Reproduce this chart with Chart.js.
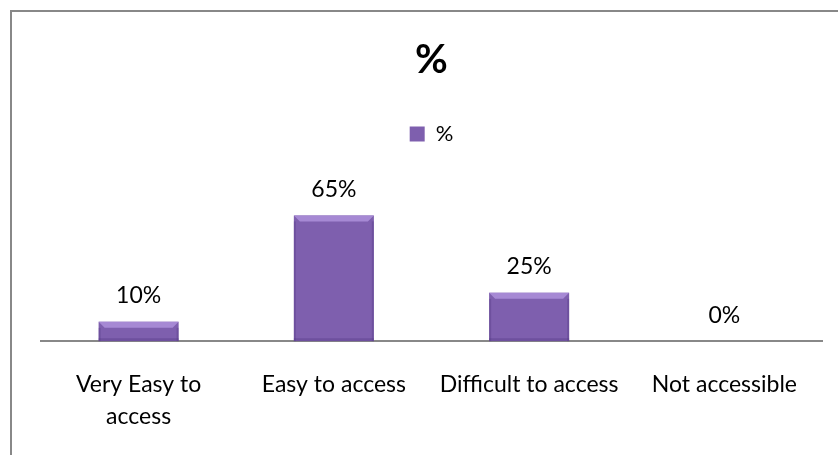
<!DOCTYPE html>
<html>
<head>
<meta charset="utf-8">
<script src="https://cdn.jsdelivr.net/npm/chart.js@4"></script>
<style>
  html, body { margin: 0; padding: 0; background: #fff; overflow: hidden; }
  #frame {
    position: absolute; left: 10px; top: 10px;
    width: 900px; height: 500px;
    border: 2px solid #888; box-sizing: border-box;
  }
  #wrap { position: absolute; left: 0; top: 0; width: 838px; height: 460px; }
</style>
</head>
<body>
<div id="frame"></div>
<div id="wrap"><canvas id="chart" width="838" height="460"></canvas></div>
<script>
const categories = [["Very Easy to", "access"], "Easy to access", "Difficult to access", "Not accessible"];
const seriesName = "%";
const percentValues = [10, 65, 25, 0];

const FACE = "#7e5fae";
const LIGHT = "#a689d4";
const DARK = "#5f4590";

// draws the value labels above each bar and a small bevel on the bars
const barExtras = {
  id: "barExtras",
  afterDatasetsDraw(chart) {
    const ctx = chart.ctx;
    const meta = chart.getDatasetMeta(0);
    meta.data.forEach((bar, i) => {
      const left = bar.x - bar.width / 2;
      const right = bar.x + bar.width / 2;
      const top = bar.y;
      const bottom = bar.base;
      const h = bottom - top;
      if (h > 2) {
        const b = Math.min(6, h / 3);
        ctx.save();
        // top highlight
        ctx.fillStyle = LIGHT;
        ctx.beginPath();
        ctx.moveTo(left, top);
        ctx.lineTo(right, top);
        ctx.lineTo(right - b, top + b);
        ctx.lineTo(left + b, top + b);
        ctx.closePath();
        ctx.fill();
        // darker sides and bottom
        ctx.fillStyle = "rgba(80,55,130,0.35)";
        ctx.fillRect(left, top + b, 2, h - b);
        ctx.fillRect(right - 2, top + b, 2, h - b);
        ctx.fillRect(left, bottom - 3, right - left, 3);
        ctx.restore();
      }
      ctx.save();
      ctx.fillStyle = "#000";
      ctx.font = "23px Lato";
      ctx.textAlign = "center";
      ctx.textBaseline = "middle";
      ctx.fillText(percentValues[i] + "%", bar.x, bar.y - 26);
      ctx.restore();
    });
  }
};

new Chart(document.getElementById("chart"), {
  type: "bar",
  data: {
    labels: categories,
    datasets: [{
      label: seriesName,
      data: percentValues,
      backgroundColor: FACE,
      borderColor: DARK,
      borderWidth: 0,
      categoryPercentage: 1,
      barPercentage: 0.41
    }]
  },
  options: {
    responsive: false,
    animation: false,
    layout: { padding: { left: 41, right: 16, top: 0, bottom: 0 } },
    scales: {
      x: {
        grid: { display: false, drawTicks: false },
        border: { display: true, color: "#888", width: 2 },
        ticks: { color: "#000", font: { family: "Lato", size: 23, lineHeight: 1.43 }, padding: 26.5, maxRotation: 0 }
      },
      y: {
        display: false,
        min: 0,
        max: 96.2
      }
    },
    plugins: {
      title: {
        display: true,
        text: "%",
        color: "#000",
        font: { family: "Lato", size: 40, weight: "bold" },
        padding: { top: 36, bottom: 29 }
      },
      legend: {
        display: true,
        labels: {
          boxWidth: 15, boxHeight: 15, padding: 10,
          color: "#000",
          font: { family: "Lato", size: 22 }
        }
      },
      tooltip: { enabled: false }
    }
  },
  plugins: [barExtras]
});
</script>
</body>
</html>
